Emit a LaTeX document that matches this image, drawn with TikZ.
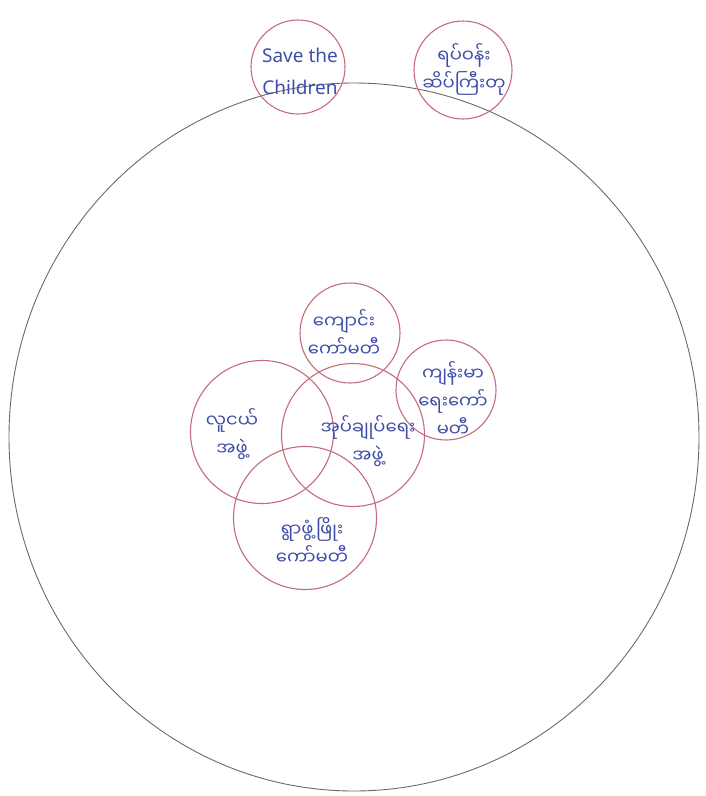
\documentclass[tikz,border=0pt]{standalone}
\usepackage{fontspec}
\setmainfont{Noto Sans}
\newfontfamily\mmfont[Script=Myanmar]{Noto Sans Myanmar UI}
\usetikzlibrary{shapes.geometric,positioning}
\definecolor{ink}{HTML}{3F4DA8}
\definecolor{rose}{HTML}{C56B7C}
\definecolor{pencil}{HTML}{6A6A6A}
\tikzset{
  outer/.style={ellipse, draw=pencil, line width=0.9pt, inner sep=0pt},
  ring/.style={circle, draw=rose, line width=1.1pt, inner sep=0pt, minimum size=#1},
  tag/.style={text=ink, align=center, inner sep=0pt, font=\mmfont\fontsize{18}{28}\selectfont},
  latintag/.style={tag, font=\fontsize{19}{32}\selectfont}
}
\begin{document}
\begin{tikzpicture}[x=1pt,y=-1pt]
  \useasboundingbox (0,0) rectangle (705,796);
  % whole village
  \node[outer, minimum width=690pt, minimum height=708pt] (village) at (354,437) {};

  % partners outside
  \node[ring=94pt] (stc) at (298,67) {};
  \node[ring=98pt] (partner) at (463,70) {};

  % groups inside the village
  \node[ring=100pt] (school) at (350,333) {};
  \node[ring=100pt] (health) at (446,390) {};
  \node[ring=143pt] (youth) at (262,432) {};
  \node[ring=143pt] (admin) at (353,435) {};
  \node[ring=143pt] (vdc) at (305,518) {};

  \node[latintag] (stcname) at (300,71) {Save the\\Children};
  \node[tag] (partnername) at (464,69) {ရပ်ဝန်း\\ဆိပ်ကြီးတု};
  \node[tag] (schoolname) at (344,333) {ကျောင်း\\ကော်မတီ};
  \node[tag] (healthname) at (453,399) {ကျန်းမာ\\ရေးကော်\\မတီ};
  \node[tag] (youthname) at (232,434) {လူငယ်\\အဖွဲ့};
  \node[tag] (adminname) at (368,441) {အုပ်ချုပ်ရေး\\အဖွဲ့};
  \node[tag] (vdcname) at (312,541) {ရွာဖွံ့ဖြိုး\\ကော်မတီ};
\end{tikzpicture}
\end{document}
